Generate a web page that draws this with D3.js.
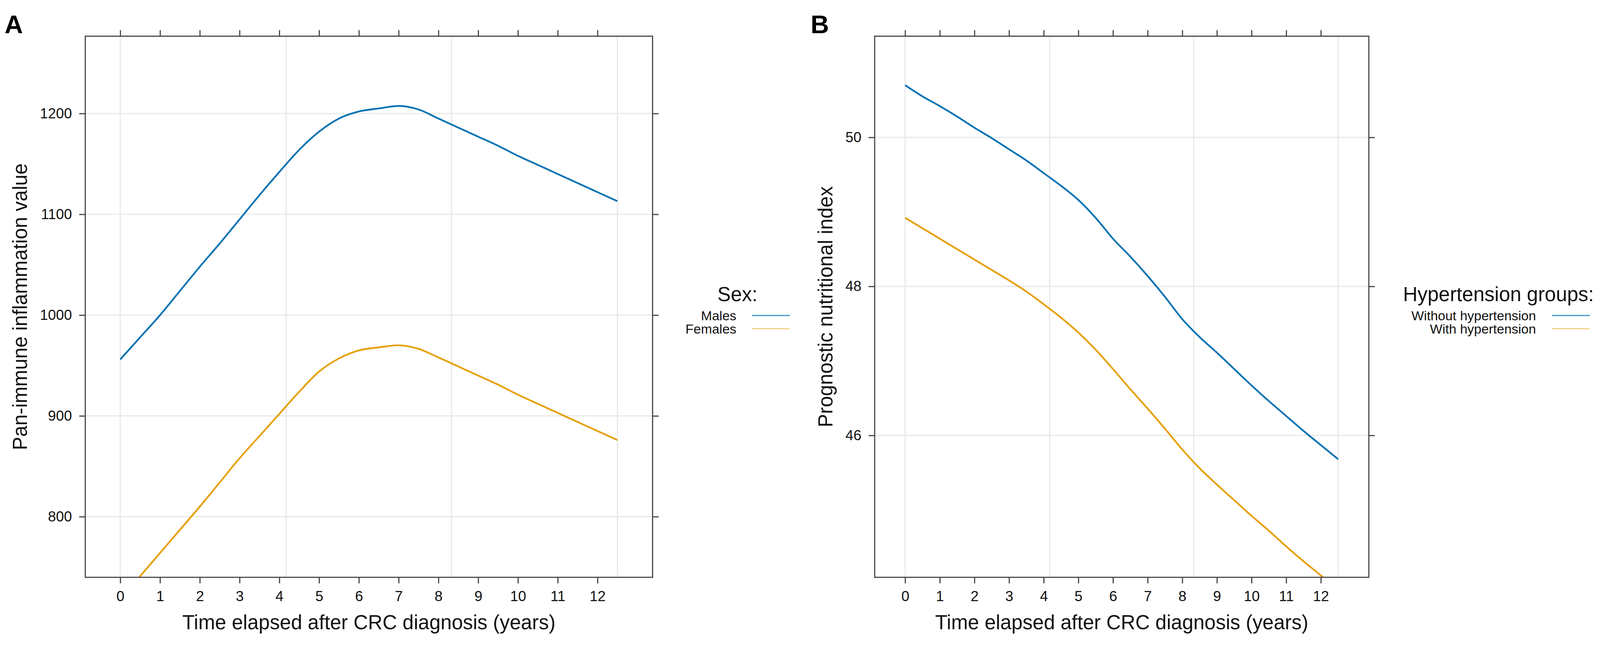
<!DOCTYPE html>
<html>
<head>
<meta charset="utf-8">
<script src="https://cdn.jsdelivr.net/npm/d3@7"></script>
<style>
  html, body { margin: 0; padding: 0; background: #fff; overflow: hidden; }
  svg { display: block; width: 100vw; height: 100vh; font-family: "Liberation Sans", Arial, Helvetica, sans-serif; }
</style>
</head>
<body>
<svg id="chart" viewBox="0 0 4222 1659" preserveAspectRatio="xMidYMid meet"></svg>
<script>
// ----- data -----
// years after diagnosis (shared by all four curves)
const timeYears = [0, 0.5, 1, 1.5, 2, 2.5, 3, 3.5, 4, 4.5, 5, 5.5, 6, 6.5,
  7, 7.5, 8, 8.5, 9, 9.5, 10, 10.5, 11, 11.5, 12, 12.5];

// panel A: pan-immune inflammation value by sex
const malesPIV = [956, 978, 1000, 1024, 1048, 1071, 1095, 1119, 1142, 1164, 1182, 1195, 1202, 1205,
  1207.5, 1204, 1195, 1186, 1177, 1168, 1158, 1149, 1140, 1131, 1122, 1113];
const femalesPIV = [718, 741, 764, 787, 810, 834, 858, 880, 902, 924, 944, 957, 965, 968,
  970, 966.5, 958, 949, 940, 931, 921, 912, 903, 894, 885, 876];

// panel B: prognostic nutritional index by hypertension group
const withoutHtnPNI = [50.70, 50.55, 50.42, 50.28, 50.13, 49.99, 49.84, 49.69, 49.52, 49.35, 49.16, 48.92, 48.64, 48.40,
  48.14, 47.86, 47.56, 47.32, 47.11, 46.89, 46.67, 46.46, 46.26, 46.06, 45.87, 45.68];
const withHtnPNI = [48.92, 48.78, 48.64, 48.50, 48.36, 48.22, 48.08, 47.93, 47.76, 47.58, 47.38, 47.15, 46.89, 46.62,
  46.36, 46.09, 45.81, 45.56, 45.34, 45.13, 44.92, 44.72, 44.51, 44.31, 44.12, 43.92];

// ticks and grid positions
const yearTicks = [0, 1, 2, 3, 4, 5, 6, 7, 8, 9, 10, 11, 12];
const yearGrid = [0, 4.17, 8.33, 12.5];
const pivTicks = [800, 900, 1000, 1100, 1200];
const pniTicks = [46, 48, 50];

const sexLabels = ["Males", "Females"];
const htnLabels = ["Without hypertension", "With hypertension"];
const seriesColors = ["#0072B2", "#E69F00"];

const xLabel = "Time elapsed after CRC diagnosis (years)";

// ----- layout (in viewBox units, same as the 4222x1659 figure) -----
const plotTop = 70, plotBottom = 1498;
const xDomain = [-0.88, 13.385];

const panels = [
  {
    tag: "A", tagX: 12, left: 225, right: 1722,
    yDomain: [739.85, 1276.7], yTicks: pivTicks,
    yLabel: "Pan-immune inflammation value", yLabelX: 71,
    series: [malesPIV, femalesPIV], names: sexLabels, legendTitle: "Sex:",
    legend: { titleX: 1946, textX: 1943, lineX1: 1984, lineX2: 2084 }
  },
  {
    tag: "B", tagX: 2139, left: 2308, right: 3612,
    yDomain: [44.095, 51.358], yTicks: pniTicks,
    yLabel: "Prognostic nutritional index", yLabelX: 2197,
    series: [withoutHtnPNI, withHtnPNI], names: htnLabels, legendTitle: "Hypertension groups:",
    legend: { titleX: 3954, textX: 4053, lineX1: 4095, lineX2: 4195 }
  }
];

const svg = d3.select("#chart");
const axisColor = "#444";
const gridColor = "#e8e8e8";

panels.forEach(function (p, pi) {
  const x = d3.scaleLinear().domain(xDomain).range([p.left, p.right]);
  const y = d3.scaleLinear().domain(p.yDomain).range([plotBottom, plotTop]);

  // clip region for curves
  const clipId = "clip" + pi;
  svg.append("clipPath").attr("id", clipId)
    .append("rect")
    .attr("x", p.left).attr("y", plotTop)
    .attr("width", p.right - p.left).attr("height", plotBottom - plotTop);

  // grid
  svg.append("g").selectAll("line").data(yearGrid).enter().append("line")
    .attr("x1", d => x(d)).attr("x2", d => x(d))
    .attr("y1", plotTop).attr("y2", plotBottom)
    .attr("stroke", gridColor).attr("stroke-width", 3);
  svg.append("g").selectAll("line").data(p.yTicks).enter().append("line")
    .attr("x1", p.left).attr("x2", p.right)
    .attr("y1", d => y(d)).attr("y2", d => y(d))
    .attr("stroke", gridColor).attr("stroke-width", 3);

  // curves
  const line = d3.line()
    .x((d, i) => x(timeYears[i]))
    .y(d => y(d))
    .curve(d3.curveMonotoneX);

  const curves = svg.append("g").attr("clip-path", "url(#" + clipId + ")");
  p.series.forEach(function (vals, si) {
    curves.append("path")
      .datum(vals)
      .attr("d", line)
      .attr("fill", "none")
      .attr("stroke", seriesColors[si])
      .attr("stroke-width", 4.5)
      .attr("stroke-linejoin", "round");
  });

  // axes: labels on bottom/left, ticks only on top/right
  function styleAxis(g, fontSize) {
    g.select(".domain").remove();
    g.selectAll(".tick line").attr("stroke", axisColor).attr("stroke-width", 3);
    g.selectAll(".tick text")
      .attr("fill", "#111")
      .style("font-family", "'Liberation Sans', Arial, sans-serif")
      .style("font-size", fontSize + "px");
  }

  svg.append("g")
    .attr("transform", "translate(0," + plotBottom + ")")
    .call(d3.axisBottom(x).tickValues(yearTicks).tickSize(16).tickPadding(20).tickFormat(d3.format("d")))
    .call(g => styleAxis(g, 38));
  svg.append("g")
    .attr("transform", "translate(0," + plotTop + ")")
    .call(d3.axisTop(x).tickValues(yearTicks).tickSize(16).tickFormat(""))
    .call(g => styleAxis(g, 38));
  svg.append("g")
    .attr("transform", "translate(" + p.left + ",0)")
    .call(d3.axisLeft(y).tickValues(p.yTicks).tickSize(16).tickPadding(19).tickFormat(d3.format("d")))
    .call(g => styleAxis(g, 38));
  svg.append("g")
    .attr("transform", "translate(" + p.right + ",0)")
    .call(d3.axisRight(y).tickValues(p.yTicks).tickSize(16).tickFormat(""))
    .call(g => styleAxis(g, 38));

  // panel border
  svg.append("rect")
    .attr("x", p.left).attr("y", plotTop)
    .attr("width", p.right - p.left).attr("height", plotBottom - plotTop)
    .attr("fill", "none").attr("stroke", axisColor).attr("stroke-width", 3);

  // axis titles
  svg.append("text")
    .attr("x", (p.left + p.right) / 2).attr("y", 1635)
    .attr("text-anchor", "middle")
    .style("font-size", "53px").attr("fill", "#111")
    .text(xLabel);
  svg.append("text")
    .attr("transform", "translate(" + p.yLabelX + "," + ((plotTop + plotBottom) / 2) + ") rotate(-90)")
    .attr("text-anchor", "middle")
    .style("font-size", "53px").attr("fill", "#111")
    .text(p.yLabel);

  // panel tag
  svg.append("text")
    .attr("x", p.tagX).attr("y", 62)
    .style("font-size", "67px").style("font-weight", "bold").attr("fill", "#000")
    .text(p.tag);

  // legend
  const lg = svg.append("g");
  lg.append("text")
    .attr("x", p.legend.titleX).attr("y", 769)
    .attr("text-anchor", "middle")
    .style("font-size", "53px").attr("fill", "#111")
    .text(p.legendTitle);
  const rowY = d3.scalePoint().domain(p.names).range([807, 842]);
  p.names.forEach(function (name, si) {
    lg.append("text")
      .attr("x", p.legend.textX).attr("y", rowY(name))
      .attr("dy", "0.35em")
      .attr("text-anchor", "end")
      .style("font-size", "35px").attr("fill", "#111")
      .text(name);
    lg.append("line")
      .attr("x1", p.legend.lineX1).attr("x2", p.legend.lineX2)
      .attr("y1", rowY(name)).attr("y2", rowY(name))
      .attr("stroke", seriesColors[si])
      .attr("stroke-width", 3)
      .attr("opacity", si === 0 ? 0.75 : 0.5);
  });
});
</script>
</body>
</html>
